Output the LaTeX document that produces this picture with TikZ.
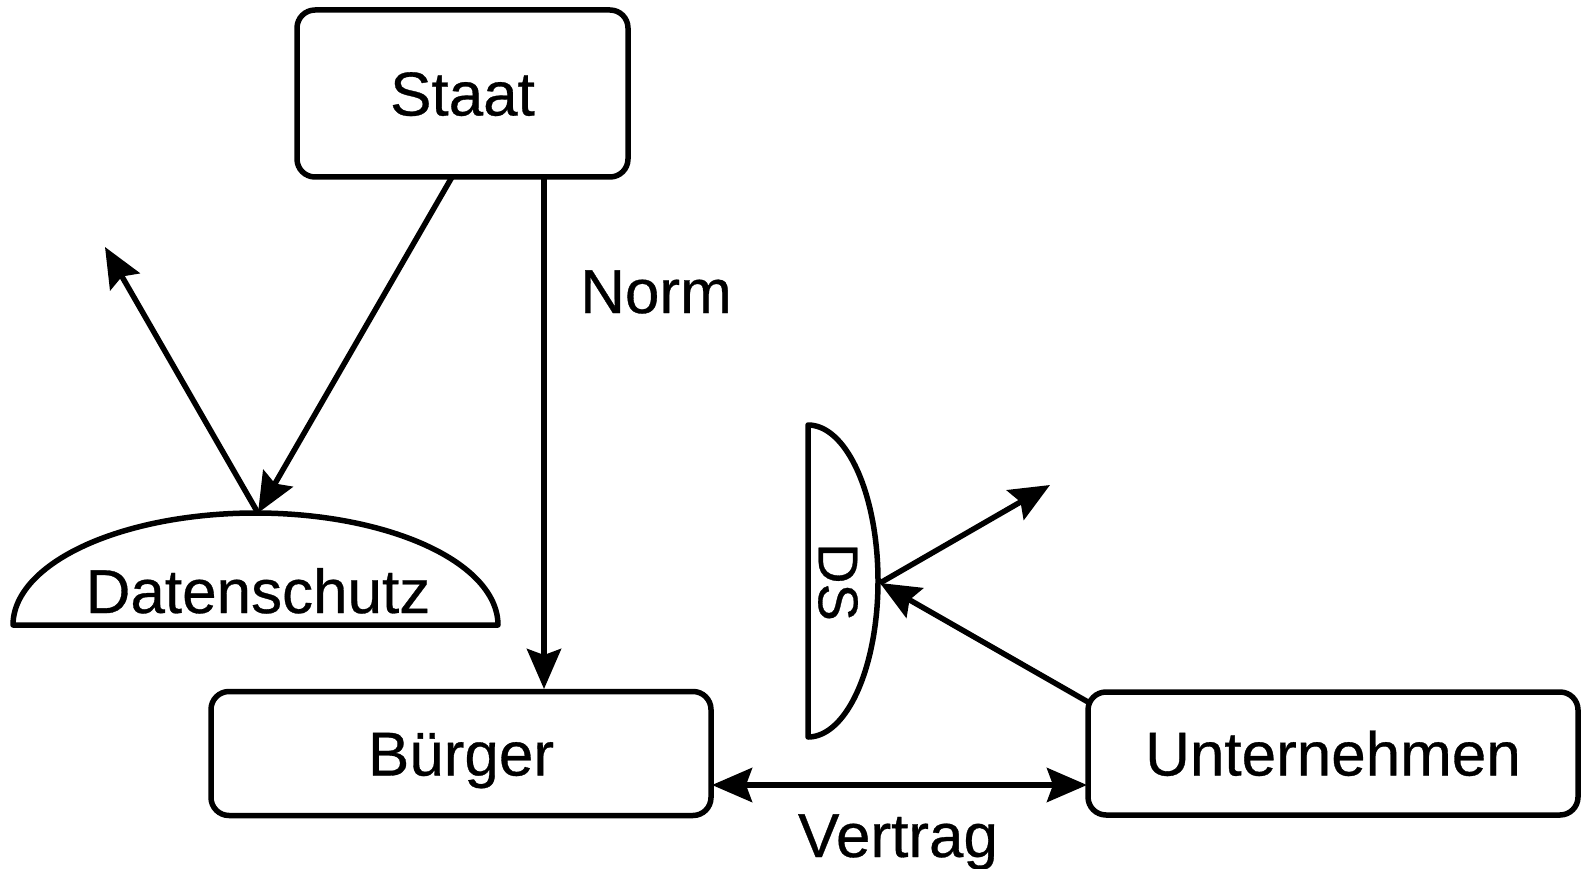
\documentclass[tikz,border=0pt]{standalone}
\usepackage{fontspec}
\setmainfont{Liberation Sans}[FakeBold=0.5]
\usetikzlibrary{arrows.meta,calc}
\begin{document}
\begin{tikzpicture}[x=1pt,y=-1pt,
  box/.style={draw,line width=5.5pt,rounded corners=18pt,inner sep=0pt,text height=44pt,text depth=0pt,font=\fontsize{62pt}{70pt}\selectfont},
  lbl/.style={inner sep=0pt,font=\fontsize{62pt}{70pt}\selectfont},
  shp/.style={line width=5.5pt,line join=round},
  conn/.style={line width=5.5pt,-{Stealth[length=40pt,width=34pt,inset=6pt]}},
  conn2/.style={line width=5.5pt,{Stealth[length=40pt,width=34pt,inset=6pt]}-{Stealth[length=40pt,width=34pt,inset=6pt]}}]
\useasboundingbox (0,0) rectangle (1586,869);

% boxes
\node[box,minimum width=331pt,minimum height=167pt] (staat) at (462.5,93.5) {Staat};
\node[box,minimum width=500pt,minimum height=124pt] (buerger) at (461,753.5) {Bürger};
\node[box,minimum width=490pt,minimum height=123pt] (untern) at (1333,753.5) {Unternehmen};

% Datenschutz half ellipse
\draw[shp] plot[domain=180:360,samples=120] ({255.5+242.5*cos(\x)},{625+112*sin(\x)}) -- cycle;
\node[lbl,anchor=base] (dstext) at (258,613) {Datenschutz};

% DS half ellipse
\draw[shp] plot[domain=-90:90,samples=120] ({808+70*cos(\x)},{581+156*sin(\x)}) -- cycle;
\node[inner sep=0pt,font=\fontsize{56pt}{64pt}\selectfont,rotate=-90] (dsl) at (838,582) {DS};

% coordinates
\coordinate (s1) at (452,177);
\coordinate (s2) at (544,177);
\coordinate (dtop) at (258,513);
\coordinate (dfree) at (105,247);
\coordinate (b1) at (544,689);
\coordinate (v1) at (712,785);
\coordinate (v2) at (1087,785);
\coordinate (u1) at (1088,702);
\coordinate (dsr) at (880,583);
\coordinate (dsfree) at (1050,485);

% connectors
\draw[conn] (s1) -- (dtop);
\draw[conn] (dtop) -- (dfree);
\draw[conn] (s2) -- (b1);
\draw[conn2] (v1) -- (v2);
\draw[conn] (u1) -- (dsr);
\draw[conn] (dsr) -- (dsfree);

% labels
\node[lbl,anchor=base west] (norm) at (580,313) {Norm};
\node[lbl,anchor=base] (vertrag) at (898,857) {Vertrag};
\end{tikzpicture}
\end{document}
